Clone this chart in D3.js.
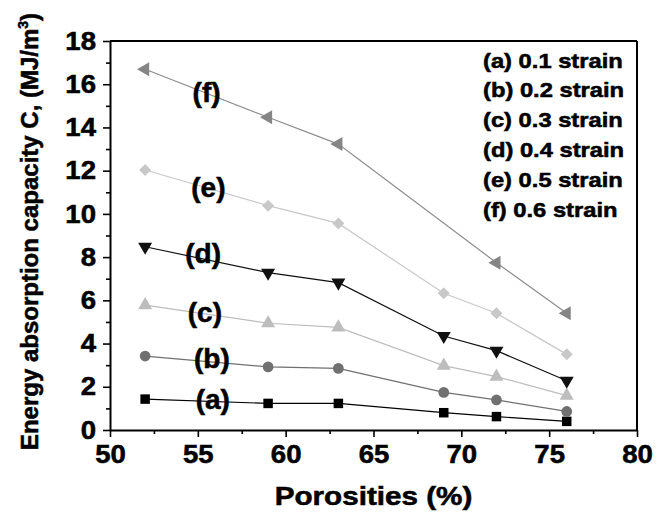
<!DOCTYPE html>
<html><head><meta charset="utf-8">
<script src="https://cdn.jsdelivr.net/npm/d3@7"></script>
<style>
body{margin:0;background:#fff}
text{font-family:"Liberation Sans",Arial,sans-serif;font-weight:bold;fill:#000;stroke:#000;stroke-width:0.55px}
</style></head>
<body><svg id="c" width="668" height="512"></svg>
<script>
const porosity = [52, 59, 63, 69, 72, 76];
const porosityF = [52, 59, 63, 72, 76];
const strainA = [1.43, 1.23, 1.23, 0.80, 0.62, 0.40];
const strainB = [3.42, 2.92, 2.85, 1.74, 1.39, 0.86];
const strainC = [5.78, 4.94, 4.75, 2.98, 2.47, 1.59];
const strainD = [8.48, 7.28, 6.82, 4.35, 3.67, 2.28];
const strainE = [12.03, 10.38, 9.56, 6.33, 5.40, 3.50];
const strainF = [16.69, 14.47, 13.23, 7.74, 5.40];
const legendLabels = ["(a) 0.1 strain", "(b) 0.2 strain", "(c) 0.3 strain", "(d) 0.4 strain", "(e) 0.5 strain", "(f) 0.6 strain"];
const curveLabels = ["(a)", "(b)", "(c)", "(d)", "(e)", "(f)"];
const curveLabelX = [55.85, 55.8, 55.4, 55.3, 55.6, 55.5];
const curveLabelY = [1.43, 3.33, 5.46, 8.19, 11.2, 15.64];
const xTicks = [50, 55, 60, 65, 70, 75, 80];
const yTicks = [0, 2, 4, 6, 8, 10, 12, 14, 16, 18];

const series = [
  {x: porosity, y: strainA, sym: d3.symbolSquare, size: 90, color: "#000", line: "#000", rot: 0},
  {x: porosity, y: strainB, sym: d3.symbolCircle, size: 90, color: "#707070", line: "#707070", rot: 0},
  {x: porosity, y: strainC, sym: d3.symbolTriangle, size: 85, color: "#bdbdbd", line: "#bdbdbd", rot: 0},
  {x: porosity, y: strainD, sym: d3.symbolTriangle, size: 85, color: "#111", line: "#111", rot: 180},
  {x: porosity, y: strainE, sym: d3.symbolSquare, size: 72, color: "#c8c8c8", line: "#c8c8c8", rot: 45},
  {x: porosityF, y: strainF, sym: d3.symbolTriangle, size: 85, color: "#858585", line: "#8c8c8c", rot: -90}
];

const svg = d3.select("#c");
const L = 110, R = 637, T = 41, B = 430;
const x = d3.scaleLinear().domain([50, 80]).range([L, R]);
const y = d3.scaleLinear().domain([0, 18]).range([B, T]);
const FONT = "'Liberation Sans', Arial, sans-serif";

function stretch(sel, k) {
  sel.each(function() {
    const w = this.getComputedTextLength();
    d3.select(this).attr("textLength", w * k).attr("lengthAdjust", "spacingAndGlyphs");
  });
}

svg.append("line").attr("x1", L).attr("x2", R).attr("y1", T).attr("y2", T).attr("stroke", "#000").attr("stroke-width", 2);
svg.append("line").attr("x1", R).attr("x2", R).attr("y1", T).attr("y2", B).attr("stroke", "#000").attr("stroke-width", 2);

const xMinor = d3.range(52.5, 80, 5);
const yMinor = d3.range(1, 18, 2);
svg.append("g").attr("transform", `translate(0,${B})`)
  .call(d3.axisBottom(x).tickValues(xMinor).tickSize(4).tickFormat(""))
  .call(g => g.select(".domain").remove())
  .selectAll("line").attr("stroke-width", 1.6);
svg.append("g").attr("transform", `translate(${L},0)`)
  .call(d3.axisLeft(y).tickValues(yMinor).tickSize(4).tickFormat(""))
  .call(g => g.select(".domain").remove())
  .selectAll("line").attr("stroke-width", 1.6);

const gx = svg.append("g").attr("transform", `translate(0,${B})`)
  .call(d3.axisBottom(x).tickValues(xTicks).tickSize(7).tickSizeOuter(0).tickPadding(8).tickFormat(d3.format("d")));
const gy = svg.append("g").attr("transform", `translate(${L},0)`)
  .call(d3.axisLeft(y).tickValues(yTicks).tickSize(7).tickSizeOuter(0).tickPadding(7).tickFormat(d3.format("d")));
[gx, gy].forEach(g => {
  g.attr("font-family", FONT).attr("font-size", 25);
  g.select(".domain").attr("stroke-width", 2);
  g.selectAll(".tick line").attr("stroke-width", 1.6);
  g.selectAll("text").attr("font-size", 25.5).attr("font-family", FONT).attr("font-weight", "bold");
});
gx.selectAll("text").call(stretch, 1.08);
gy.selectAll("text").call(stretch, 1.08);

series.forEach(s => {
  const pts = s.x.map((v, i) => [v, s.y[i]]);
  svg.append("path").datum(pts)
    .attr("d", d3.line().x(d => x(d[0])).y(d => y(d[1])))
    .attr("fill", "none").attr("stroke", s.line).attr("stroke-width", 1.2);
  svg.append("g").selectAll("path").data(pts).join("path")
    .attr("d", d3.symbol().type(s.sym).size(s.size))
    .attr("transform", d => `translate(${x(d[0])},${y(d[1])}) rotate(${s.rot})`)
    .attr("fill", s.color);
});

svg.append("g").selectAll("text").data(curveLabels).join("text")
  .attr("x", (d, i) => x(curveLabelX[i]))
  .attr("y", (d, i) => y(curveLabelY[i]))
  .attr("text-anchor", "middle").attr("dominant-baseline", "central")
  .attr("font-size", 28).text(d => d);

svg.append("g").selectAll("text").data(legendLabels).join("text")
  .attr("x", 483).attr("y", (d, i) => 60 + i * 29.8)
  .attr("dominant-baseline", "central")
  .attr("font-size", 21).text(d => d)
  .call(stretch, 1.13);

svg.append("text").attr("x", x(65)).attr("y", 505).attr("text-anchor", "middle")
  .attr("font-size", 26).text("Porosities (%)").call(stretch, 1.14);

const yt = svg.append("text").attr("transform", "translate(38,231.5) rotate(-90)")
  .attr("text-anchor", "middle").attr("font-size", 24);
yt.append("tspan").text("Energy absorption capacity C, (MJ/m");
yt.append("tspan").attr("font-size", 14).attr("dy", -10).text("3");
yt.append("tspan").attr("dy", 10).text(")");
</script></body></html>
